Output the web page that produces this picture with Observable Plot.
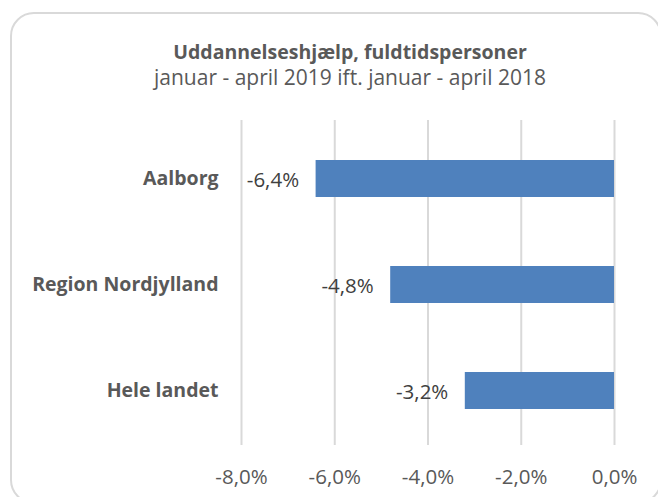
<!DOCTYPE html>
<html>
<head>
<meta charset="utf-8">
<script src="https://cdn.jsdelivr.net/npm/d3@7"></script>
<script src="https://cdn.jsdelivr.net/npm/@observablehq/plot@0.6"></script>
<style>
  html, body { margin: 0; padding: 0; background: #fff; }
  #wrap { position: relative; width: 658px; height: 497px; overflow: hidden; font-family: "Open Sans", sans-serif; }
  #frame { position: absolute; left: 10px; top: 12px; width: 652px; height: 492px; border: 2px solid #d9d9d9; border-radius: 24px; box-sizing: border-box; }
  .t { position: absolute; left: 0; width: 700px; text-align: center; color: #595959; white-space: nowrap; line-height: 1; }
  #title { top: 42px; font-weight: bold; font-size: 19.5px; }
  #subtitle { top: 67px; font-size: 21px; }
  #chart { position: absolute; left: 0; top: 0; }
</style>
</head>
<body>
<div id="wrap">
  <div id="frame"></div>
  <div id="chart"></div>
  <div class="t" id="title">Uddannelseshjælp, fuldtidspersoner</div>
  <div class="t" id="subtitle">januar - april 2019 ift. januar - april 2018</div>
</div>
<script>
const categories = ["Aalborg", "Region Nordjylland", "Hele landet"];
const values = [-6.4, -4.8, -3.2];
const xTicks = [-8, -6, -4, -2, 0];

const data = categories.map((c, i) => ({ category: c, value: values[i] }));
const fmt = v => v.toFixed(1).replace(".", ",") + "%";

const chart = Plot.plot({
  width: 658,
  height: 497,
  marginLeft: 241,
  marginRight: 44,
  marginTop: 120,
  marginBottom: 52,
  style: { fontFamily: "'Open Sans', sans-serif", background: "transparent", overflow: "visible" },
  x: { domain: [-8, 0], ticks: xTicks, tickFormat: fmt, label: null },
  y: { domain: categories, insetTop: 5, paddingInner: 0.65, paddingOuter: 0.325, label: null },
  marks: [
    Plot.gridX(xTicks, { stroke: "#d9d9d9", strokeOpacity: 1, strokeWidth: 2 }),
    Plot.barX(data, { x1: 0, x2: "value", y: "category", fill: "#4f81bd" }),
    Plot.text(data, { x: "value", y: "category", text: d => fmt(d.value), textAnchor: "end", dx: -17, dy: 1, fill: "#404040", fontSize: 20.5 }),
    Plot.axisX(xTicks, { tickSize: 0, tickPadding: 24, tickFormat: fmt, fontSize: 20.5, color: "#595959", anchor: "bottom" }),
    Plot.axisY({ tickSize: 0, tickPadding: 23, fontSize: 19.5, fontWeight: "bold", color: "#595959" })
  ]
});
document.getElementById("chart").appendChild(chart);
</script>
</body>
</html>
